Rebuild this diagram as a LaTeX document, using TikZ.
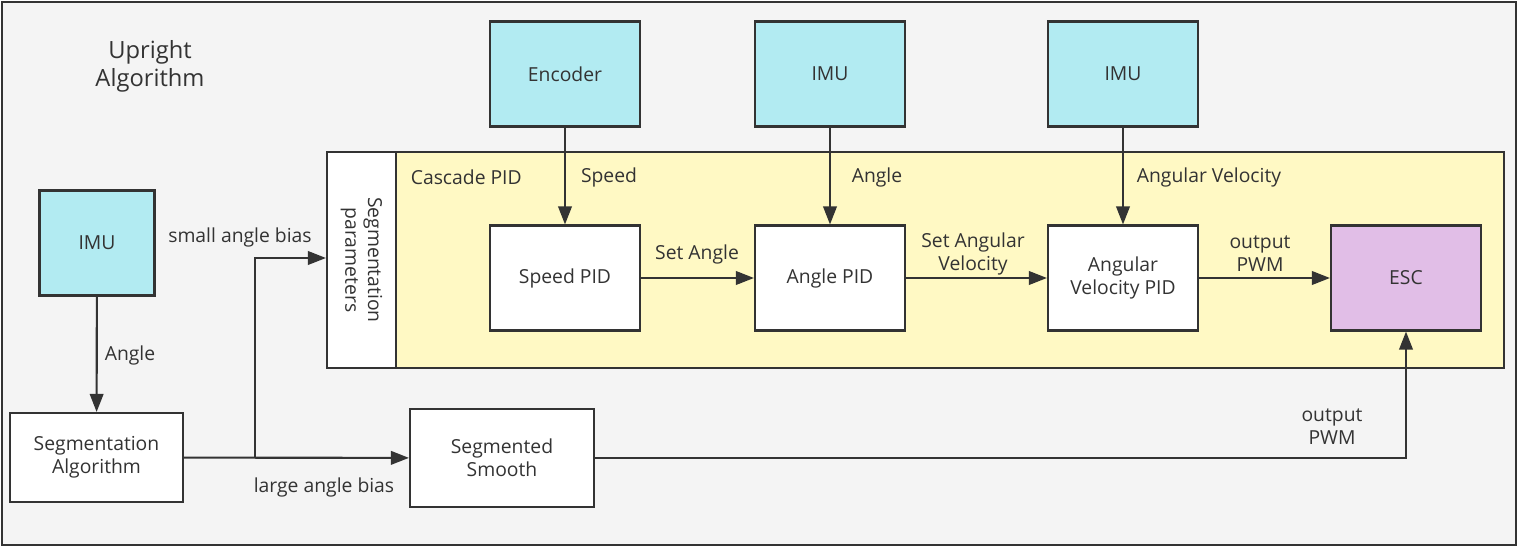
\documentclass[tikz,border=0pt]{standalone}
\usepackage{fontspec}
\setmainfont{Open Sans}
\usetikzlibrary{positioning, arrows.meta, calc}

\definecolor{bgGray}{HTML}{F4F4F4}
\definecolor{lineDark}{HTML}{333333}
\definecolor{sensorCyan}{HTML}{B2EBF2}
\definecolor{cascadeYellow}{HTML}{FFF9C4}
\definecolor{escPurple}{HTML}{E1BEE7}

\begin{document}
\begin{tikzpicture}[x=0.02cm, y=-0.02cm, >={Triangle[length=3.6mm, width=2.7mm]},
    line width=1.2pt, draw=lineDark, text=lineDark,
    font=\fontsize{11}{13}\selectfont,
    sensor/.style={draw=lineDark, fill=sensorCyan, minimum width=3cm, minimum height=2.1cm, align=center},
    pidbox/.style={draw=lineDark, fill=white, minimum width=3cm, minimum height=2.1cm, align=center},
    lbl/.style={align=center, inner sep=1pt}]

  % --- MOLDURA GERAL ---
  \useasboundingbox (0,0) rectangle (1519,547);
  \draw[fill=bgGray, draw=lineDark] (2,2) rectangle (1516,545);
  \node[lbl, font=\fontsize{13.5}{16}\selectfont] (title) at (150,66) {Upright\\Algorithm};

  % --- BLOCO CASCADE PID ---
  \node[draw=lineDark, fill=cascadeYellow, minimum width=22.16cm, minimum height=4.32cm] (cascade) at (950,260) {};
  \node[draw=lineDark, fill=white, minimum width=1.38cm, minimum height=4.32cm] (segpar) at (361.5,260) {};
  \node[lbl, rotate=-90] (segtxt) at (segpar) {Segmentation\\parameters};
  \node[lbl, anchor=west] (cascname) at (408,177) {Cascade PID};

  % --- SENSORES ---
  \node[sensor] (enc)  at (565,74)  {Encoder};
  \node[sensor] (imuA) at (830,74)  {IMU};
  \node[sensor] (imuB) at (1123,74) {IMU};
  \node[sensor, minimum width=2.3cm] (imuL) at (97,243) {IMU};

  % --- CONTROLADORES ---
  \node[pidbox] (speed) at (565,278)  {Speed PID};
  \node[pidbox] (angle) at (830,278)  {Angle PID};
  \node[pidbox] (angvel) at (1123,278) {Angular\\Velocity PID};
  \node[pidbox, fill=escPurple] (esc) at (1406,278) {ESC};

  % --- SEGMENTAÇÃO ---
  \node[pidbox, minimum width=3.46cm, minimum height=1.78cm] (segalg) at (96.5,457.5) {Segmentation\\Algorithm};
  \node[pidbox, minimum width=3.68cm, minimum height=1.96cm] (smooth) at (502,458) {Segmented\\Smooth};

  % --- CONEXÕES ---
  \draw[->] (enc) -- (speed);
  \draw[->] (imuA) -- (angle);
  \draw[->] (imuB) -- (angvel);
  \draw[->] (speed) -- (angle);
  \draw[->] (angle) -- (angvel);
  \draw[->] (angvel) -- (esc);
  \draw[->] (imuL) -- (segalg);

  \draw[->] (segalg) -- (smooth);
  \coordinate (split) at (255,458);
  \coordinate (segin) at (segpar.west |- 0,258);
  \draw[->] (split) |- (segin);
  \draw[->] (smooth) -| (esc);

  % --- RÓTULOS ---
  \node[lbl] (lspeed) at (609,177) {Speed};
  \node[lbl] (langle) at (877,177) {Angle};
  \node[lbl] (lomega) at (1209,177) {Angular Velocity};
  \node[lbl] (lsetang) at (697,254) {Set Angle};
  \node[lbl] (lsetomega) at (973,254) {Set Angular\\Velocity};
  \node[lbl] (lpwmA) at (1260,254) {output\\PWM};
  \node[lbl] (lpwmB) at (1332,427) {output\\PWM};
  \node[lbl] (limu) at (130,355) {Angle};
  \node[lbl] (lsmall) at (240,237) {small angle bias};
  \node[lbl] (llarge) at (324,487) {large angle bias};

\end{tikzpicture}
\end{document}
